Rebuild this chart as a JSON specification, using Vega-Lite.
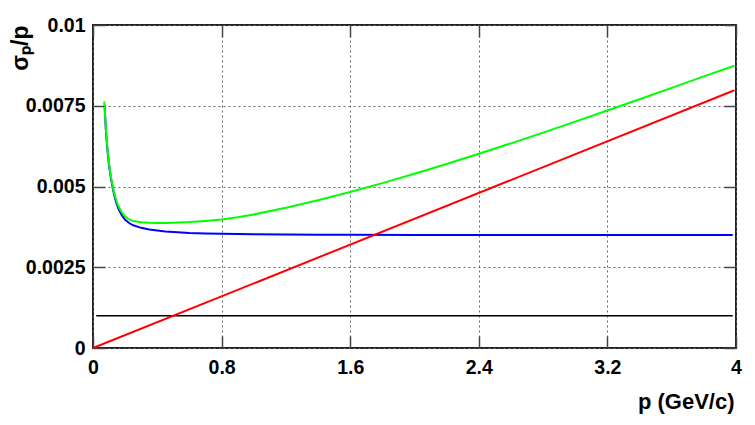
{
  "$schema": "https://vega.github.io/schema/vega-lite/v6.json",
  "width": 643,
  "height": 323,
  "autosize": "none",
  "padding": {"left": 93, "top": 25, "right": 19, "bottom": 77},
  "background": "white",
  "config": {
    "view": {"stroke": "#222222", "strokeWidth": 2},
    "axis": {
      "labelFont": "Liberation Sans",
      "labelFontWeight": "bold",
      "labelFontSize": 19.5,
      "labelColor": "#000000",
      "titleFont": "Liberation Sans",
      "titleFontWeight": "bold",
      "titleColor": "#000000",
      "domain": false,
      "tickColor": "#444444",
      "tickWidth": 1.5,
      "gridColor": "#666666",
      "gridDash": [2, 3],
      "gridWidth": 1,
      "labelFlush": false,
      "labelOverlap": false
    }
  },
  "datasets": {
    "curves": [
      {"series": "black", "p": 0.02, "v": 0.001},
      {"series": "black", "p": 3.98, "v": 0.001},
      {"series": "red", "p": 0.0, "v": 0.0},
      {"series": "red", "p": 3.99, "v": 0.00798},
      {"series": "blue", "p": 0.072, "v": 0.00752},
      {"series": "blue", "p": 0.08, "v": 0.00675},
      {"series": "blue", "p": 0.09, "v": 0.00612},
      {"series": "blue", "p": 0.10, "v": 0.00565},
      {"series": "blue", "p": 0.11, "v": 0.0053},
      {"series": "blue", "p": 0.12, "v": 0.00503},
      {"series": "blue", "p": 0.13, "v": 0.00478},
      {"series": "blue", "p": 0.14, "v": 0.00458},
      {"series": "blue", "p": 0.15, "v": 0.00442},
      {"series": "blue", "p": 0.16, "v": 0.00429},
      {"series": "blue", "p": 0.18, "v": 0.0041},
      {"series": "blue", "p": 0.20, "v": 0.00397},
      {"series": "blue", "p": 0.225, "v": 0.00387},
      {"series": "blue", "p": 0.25, "v": 0.0038},
      {"series": "blue", "p": 0.30, "v": 0.00372},
      {"series": "blue", "p": 0.35, "v": 0.00367},
      {"series": "blue", "p": 0.40, "v": 0.00364},
      {"series": "blue", "p": 0.45, "v": 0.00361},
      {"series": "blue", "p": 0.50, "v": 0.00359},
      {"series": "blue", "p": 0.60, "v": 0.00356},
      {"series": "blue", "p": 0.70, "v": 0.003545},
      {"series": "blue", "p": 0.80, "v": 0.003535},
      {"series": "blue", "p": 1.0, "v": 0.003525},
      {"series": "blue", "p": 1.2, "v": 0.003515},
      {"series": "blue", "p": 1.4, "v": 0.00351},
      {"series": "blue", "p": 1.6, "v": 0.003505},
      {"series": "blue", "p": 2.0, "v": 0.0035},
      {"series": "blue", "p": 2.4, "v": 0.0035},
      {"series": "blue", "p": 3.2, "v": 0.0035},
      {"series": "blue", "p": 3.98, "v": 0.0035},
      {"series": "green", "p": 0.07, "v": 0.00763},
      {"series": "green", "p": 0.08, "v": 0.0068},
      {"series": "green", "p": 0.09, "v": 0.00617},
      {"series": "green", "p": 0.10, "v": 0.0057},
      {"series": "green", "p": 0.11, "v": 0.00535},
      {"series": "green", "p": 0.12, "v": 0.00507},
      {"series": "green", "p": 0.13, "v": 0.00484},
      {"series": "green", "p": 0.14, "v": 0.00465},
      {"series": "green", "p": 0.15, "v": 0.00449},
      {"series": "green", "p": 0.16, "v": 0.00437},
      {"series": "green", "p": 0.18, "v": 0.00419},
      {"series": "green", "p": 0.20, "v": 0.00407},
      {"series": "green", "p": 0.225, "v": 0.00398},
      {"series": "green", "p": 0.25, "v": 0.00393},
      {"series": "green", "p": 0.30, "v": 0.00389},
      {"series": "green", "p": 0.35, "v": 0.003875},
      {"series": "green", "p": 0.40, "v": 0.00387},
      {"series": "green", "p": 0.45, "v": 0.00387},
      {"series": "green", "p": 0.50, "v": 0.003877},
      {"series": "green", "p": 0.60, "v": 0.0039},
      {"series": "green", "p": 0.70, "v": 0.003935},
      {"series": "green", "p": 0.80, "v": 0.00398},
      {"series": "green", "p": 0.90, "v": 0.00405},
      {"series": "green", "p": 1.0, "v": 0.004136},
      {"series": "green", "p": 1.2, "v": 0.004343},
      {"series": "green", "p": 1.4, "v": 0.004577},
      {"series": "green", "p": 1.6, "v": 0.004832},
      {"series": "green", "p": 1.8, "v": 0.005105},
      {"series": "green", "p": 2.0, "v": 0.005395},
      {"series": "green", "p": 2.2, "v": 0.005698},
      {"series": "green", "p": 2.4, "v": 0.006012},
      {"series": "green", "p": 2.6, "v": 0.006336},
      {"series": "green", "p": 2.8, "v": 0.006668},
      {"series": "green", "p": 3.0, "v": 0.007007},
      {"series": "green", "p": 3.2, "v": 0.007353},
      {"series": "green", "p": 3.4, "v": 0.007703},
      {"series": "green", "p": 3.6, "v": 0.008055},
      {"series": "green", "p": 3.8, "v": 0.008408},
      {"series": "green", "p": 3.99, "v": 0.00874}
    ]
  },
  "data": {"name": "curves"},
  "resolve": {"axis": {"x": "independent", "y": "independent"}},
  "layer": [
    {
      "transform": [{"filter": "datum.series === 'black'"}],
      "mark": {"type": "line", "color": "#000000", "strokeWidth": 1.5},
      "encoding": {
        "x": {
          "field": "p", "type": "quantitative",
          "scale": {"domain": [0, 4], "nice": false, "zero": false},
          "axis": {
            "values": [0, 0.8, 1.6, 2.4, 3.2, 4],
            "labelExpr": "format(datum.value, '~g')",
            "grid": true,
            "tickSize": -12,
            "labelPadding": 22,
            "title": "p (GeV/c)",
            "titleFontSize": 22,
            "titleAlign": "right",
            "titleBaseline": "alphabetic",
            "titleX": 641,
            "titleY": 60
          }
        },
        "y": {
          "field": "v", "type": "quantitative",
          "scale": {"domain": [0, 0.01], "nice": false, "zero": false},
          "axis": {
            "values": [0, 0.0025, 0.005, 0.0075, 0.01],
            "labelExpr": "format(datum.value, '~g')",
            "grid": true,
            "tickSize": -12,
            "labelPadding": 20,
            "title": "σₚ/p",
            "titleFontSize": 23,
            "titleAngle": -90,
            "titleAlign": "right",
            "titleBaseline": "bottom",
            "titleX": -61,
            "titleY": 0
          }
        }
      }
    },
    {
      "transform": [{"filter": "datum.series === 'blue'"}],
      "mark": {"type": "line", "color": "#0000ff", "strokeWidth": 2},
      "encoding": {
        "x": {
          "field": "p", "type": "quantitative",
          "axis": {"orient": "top", "values": [0, 0.8, 1.6, 2.4, 3.2, 4], "labels": false, "grid": false, "tickSize": -12, "title": null}
        },
        "y": {
          "field": "v", "type": "quantitative",
          "axis": {"orient": "right", "values": [0, 0.0025, 0.005, 0.0075, 0.01], "labels": false, "grid": false, "tickSize": -12, "title": null}
        }
      }
    },
    {
      "transform": [{"filter": "datum.series === 'red'"}],
      "mark": {"type": "line", "color": "#ff0000", "strokeWidth": 2},
      "encoding": {
        "x": {"field": "p", "type": "quantitative", "axis": null},
        "y": {"field": "v", "type": "quantitative", "axis": null}
      }
    },
    {
      "transform": [{"filter": "datum.series === 'green'"}],
      "mark": {"type": "line", "color": "#00ff00", "strokeWidth": 2},
      "encoding": {
        "x": {"field": "p", "type": "quantitative", "axis": null},
        "y": {"field": "v", "type": "quantitative", "axis": null}
      }
    }
  ]
}
